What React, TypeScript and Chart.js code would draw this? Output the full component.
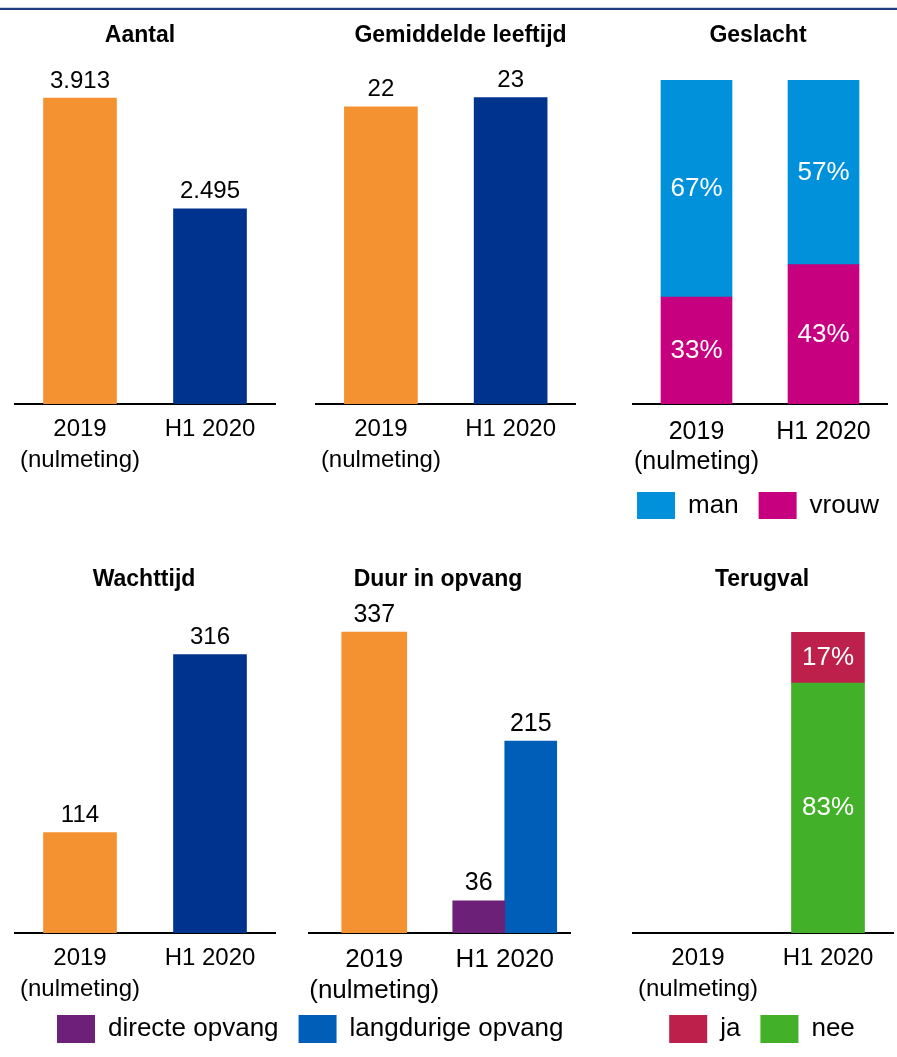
import React, { useEffect, useRef } from 'react';
import { Chart, registerables } from 'chart.js';

Chart.register(...registerables);

const FONT = "'Liberation Sans', Arial, Helvetica, sans-serif";
Chart.defaults.font.family = FONT;

// ---------- data ----------
const categories: (string | string[])[] = [['2019', '(nulmeting)'], 'H1 2020'];

const aantalValues = [3913, 2495];
const leeftijdValues = [22.4, 23.1]; // shown rounded: 22, 23
const geslachtMan = [67, 57];
const geslachtVrouw = [33, 43];
const wachttijdValues = [114, 316];
const duurNulmeting = [337, null];
const duurDirect = [null, 36];
const duurLangdurig = [null, 215];
const terugvalJa = [null, 17];
const terugvalNee = [null, 83];

// ---------- colours ----------
const ORANGE = '#F49232';
const NAVY = '#00338D';
const LIGHTBLUE = '#0091DA';
const MAGENTA = '#C6007E';
const PURPLE = '#6D2077';
const MIDBLUE = '#005EB8';
const RED = '#BC204B';
const GREEN = '#43B02A';

const nl = (v: number) => String(v).replace(/\B(?=(\d{3})+(?!\d))/g, '.');

type Cfg = {
  title: string;
  left: number; top: number; width: number; height: number;
  padT: number; padB: number;
  yLeft: number; yRight: number;
  xHeight: number; padBottom: number;
  yMax: number; stacked: boolean;
  tickSize: number; tickLH: number; tickPad: number;
  datasets: any[];
  legend?: { align: 'start' | 'center'; reverse: boolean; boxHeight: number; skipFirst?: boolean };
  labelMode: 'outside' | 'inside';
  labelSize: number;
  format: (v: number) => string;
};

const panels: Cfg[] = [
  {
    title: 'Aantal', left: 0, top: 10, width: 280, height: 500,
    padT: 12.2, padB: 10.2, yLeft: 15, yRight: 5, xHeight: 106, padBottom: 0,
    yMax: 4399, stacked: false, tickSize: 24, tickLH: 1.3, tickPad: 9.5,
    datasets: [{ label: 'Aantal', data: aantalValues, backgroundColor: [ORANGE, NAVY], barThickness: 73 }],
    labelMode: 'outside', labelSize: 24, format: nl,
  },
  {
    title: 'Gemiddelde leeftijd', left: 310, top: 10, width: 301, height: 500,
    padT: 12.2, padB: 10.2, yLeft: 5.5, yRight: 35.5, xHeight: 106, padBottom: 0,
    yMax: 25.94, stacked: false, tickSize: 24, tickLH: 1.3, tickPad: 9.5,
    datasets: [{ label: 'Gemiddelde leeftijd', data: leeftijdValues, backgroundColor: [ORANGE, NAVY], barThickness: 73 }],
    labelMode: 'outside', labelSize: 24, format: (v) => String(Math.round(v)),
  },
  {
    title: 'Geslacht', left: 608, top: 10, width: 300, height: 520,
    padT: 12.2, padB: 30.2, yLeft: 25, yRight: 21, xHeight: 68, padBottom: 1,
    yMax: 100, stacked: true, tickSize: 25, tickLH: 1.2, tickPad: 13,
    datasets: [
      { label: 'vrouw', data: geslachtVrouw, backgroundColor: MAGENTA, barThickness: 71 },
      { label: 'man', data: geslachtMan, backgroundColor: LIGHTBLUE, barThickness: 71 },
    ],
    legend: { align: 'center', reverse: true, boxHeight: 27 },
    labelMode: 'inside', labelSize: 26, format: (v) => v + '%',
  },
  {
    title: 'Wachttijd', left: 0, top: 540, width: 288, height: 517,
    padT: 26.2, padB: 6.2, yLeft: 15, yRight: 13, xHeight: 124, padBottom: 0,
    yMax: 378, stacked: false, tickSize: 24, tickLH: 1.3, tickPad: 9.5,
    datasets: [{ label: 'Wachttijd', data: wachttijdValues, backgroundColor: [ORANGE, NAVY], barThickness: 73 }],
    labelMode: 'outside', labelSize: 24, format: (v) => String(v),
  },
  {
    title: 'Duur in opvang', left: 37, top: 540, width: 802, height: 517,
    padT: 26.2, padB: 6.2, yLeft: 272, yRight: 269, xHeight: 62, padBottom: 4,
    yMax: 373, stacked: false, tickSize: 26, tickLH: 1.2, tickPad: 11.5,
    datasets: [
      { label: 'nulmeting', data: duurNulmeting, backgroundColor: ORANGE, barThickness: 65 },
      { label: 'directe opvang', data: duurDirect, backgroundColor: PURPLE, barThickness: 52 },
      { label: 'langdurige opvang', data: duurLangdurig, backgroundColor: MIDBLUE, barThickness: 52 },
    ],
    legend: { align: 'start', reverse: false, boxHeight: 28, skipFirst: true },
    labelMode: 'outside', labelSize: 25, format: (v) => String(v),
  },
  {
    title: 'Terugval', left: 612, top: 540, width: 300, height: 517,
    padT: 26.2, padB: 38.2, yLeft: 21, yRight: 19, xHeight: 62, padBottom: 4,
    yMax: 100, stacked: true, tickSize: 24, tickLH: 1.3, tickPad: 10,
    datasets: [
      { label: 'nee', data: terugvalNee, backgroundColor: GREEN, barThickness: 73 },
      { label: 'ja', data: terugvalJa, backgroundColor: RED, barThickness: 73 },
    ],
    legend: { align: 'center', reverse: true, boxHeight: 28 },
    labelMode: 'inside', labelSize: 26, format: (v) => v + '%',
  },
];

function Panel({ cfg }: { cfg: Cfg }) {
  const ref = useRef<HTMLCanvasElement>(null);
  useEffect(() => {
    const labelPlugin = {
      id: 'valueLabels',
      afterDatasetsDraw(chart: any) {
        const ctx = chart.ctx;
        ctx.save();
        ctx.font = `${cfg.labelSize}px ${FONT}`;
        ctx.textAlign = 'center';
        chart.data.datasets.forEach((ds: any, di: number) => {
          const meta = chart.getDatasetMeta(di);
          meta.data.forEach((el: any, i: number) => {
            const v = ds.data[i];
            if (v === null || v === undefined) return;
            const { x, y, base } = el.getProps(['x', 'y', 'base'], true);
            if (cfg.labelMode === 'inside') {
              ctx.fillStyle = '#ffffff';
              ctx.textBaseline = 'middle';
              ctx.fillText(cfg.format(v), x, (y + base) / 2);
            } else {
              ctx.fillStyle = '#000000';
              ctx.textBaseline = 'alphabetic';
              ctx.fillText(cfg.format(v), x, y - 10.5);
            }
          });
        });
        ctx.restore();
      },
    };

    const chart = new Chart(ref.current as HTMLCanvasElement, {
      type: 'bar',
      data: {
        labels: categories,
        datasets: cfg.datasets.map((d) => ({ ...d, borderWidth: 0, skipNull: true })),
      },
      options: {
        responsive: false,
        animation: false,
        devicePixelRatio: 1,
        layout: { padding: { top: 0, left: 0, right: 0, bottom: cfg.padBottom }, autoPadding: false },
        plugins: {
          title: {
            display: true,
            text: cfg.title,
            color: '#000',
            font: { family: FONT, size: 23, weight: 'bold', lineHeight: 1.2 },
            padding: { top: cfg.padT, bottom: cfg.padB },
          },
          legend: cfg.legend
            ? {
                display: true,
                position: 'bottom',
                align: cfg.legend.align,
                reverse: cfg.legend.reverse,
                labels: {
                  boxWidth: 38,
                  boxHeight: cfg.legend.boxHeight,
                  padding: 20,
                  color: '#000',
                  font: { family: FONT, size: 26 },
                  filter: (item: any) => (cfg.legend && cfg.legend.skipFirst ? item.datasetIndex > 0 : true),
                },
              }
            : { display: false },
          tooltip: { enabled: false },
        },
        scales: {
          x: {
            stacked: cfg.stacked,
            z: 1,
            grid: { display: false, drawTicks: false },
            border: { display: true, color: '#000', width: 2 },
            ticks: {
              color: '#000',
              padding: cfg.tickPad,
              maxRotation: 0,
              autoSkip: false,
              font: { family: FONT, size: cfg.tickSize, lineHeight: cfg.tickLH },
            },
            afterFit: (s: any) => {
              s.height = cfg.xHeight;
              // let the two-line category labels run below the axis box
              s._computeLabelArea = () => undefined;
            },
          },
          y: {
            stacked: cfg.stacked,
            position: 'left',
            min: 0,
            max: cfg.yMax,
            grid: { display: false, drawTicks: false },
            border: { display: false },
            ticks: { display: false },
            afterFit: (s: any) => { s.width = cfg.yLeft; },
          },
          y2: {
            type: 'linear',
            position: 'right',
            grid: { display: false, drawTicks: false },
            border: { display: false },
            ticks: { display: false },
            afterFit: (s: any) => { s.width = cfg.yRight; },
          },
        },
      } as any,
      plugins: [labelPlugin],
    });
    return () => chart.destroy();
  }, [cfg]);

  return (
    <canvas
      ref={ref}
      width={cfg.width}
      height={cfg.height}
      style={{ position: 'absolute', left: cfg.left, top: cfg.top, width: cfg.width, height: cfg.height }}
    />
  );
}

export default function App() {
  return (
    <div style={{ position: 'absolute', left: 0, top: 0, width: 897, height: 1057, background: '#fff', overflow: 'hidden' }}>
      <div style={{ position: 'absolute', left: 0, top: 7, width: 897, height: 1, background: '#c9d2e3' }} />
      <div style={{ position: 'absolute', left: 0, top: 8, width: 897, height: 2, background: '#1F3C7E' }} />
      {panels.map((p) => (
        <Panel key={p.title} cfg={p} />
      ))}
    </div>
  );
}
